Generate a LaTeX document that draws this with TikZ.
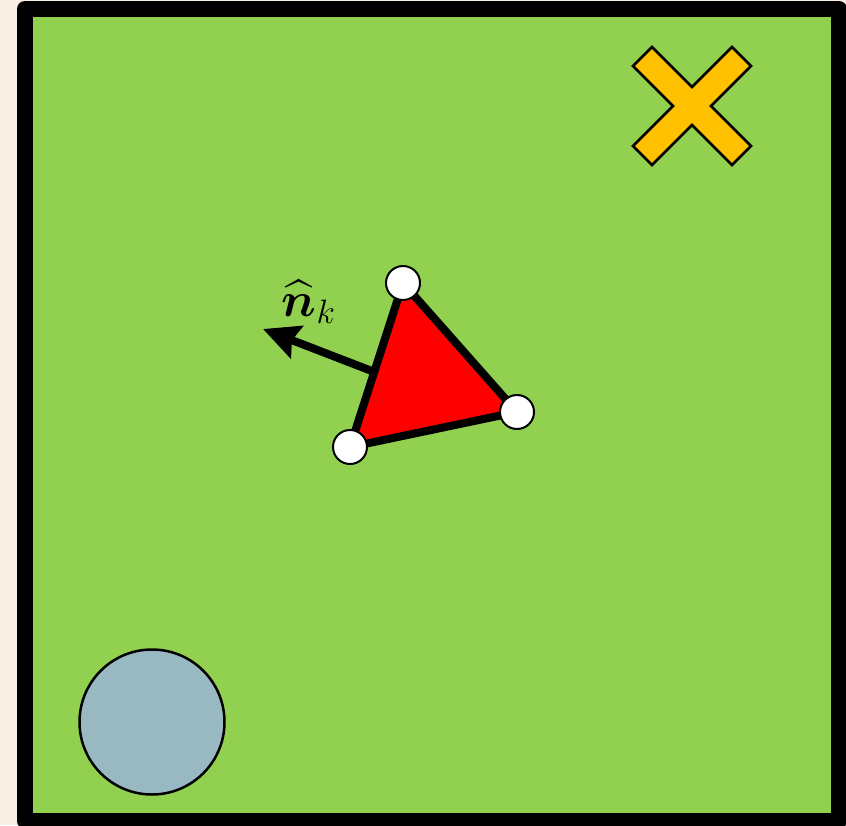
\documentclass[tikz,border=0pt]{standalone}
\usepackage{amsmath, amssymb, bm, graphicx}
\usepackage{tikz}
\usetikzlibrary{positioning, arrows.meta, calc}
\definecolor{paper}{HTML}{F9F0E5}
\definecolor{field}{HTML}{92D050}
\definecolor{goal}{HTML}{FFC000}
\definecolor{pool}{HTML}{98B9C2}
\definecolor{agent}{HTML}{FF0000}

\tikzset{
  vertex/.style={circle, draw=black, line width=2pt, fill=white,
                 minimum size=34pt, inner sep=0pt},
  normal/.style={line width=8pt, -{Stealth[length=36pt, width=34pt, inset=5pt]}}
}

\begin{document}
\begin{tikzpicture}[x=1pt, y=-1pt]
    \useasboundingbox (0,0) rectangle (846,825);
    \fill[paper] (0,0) rectangle (846,825);
    % arena
    \draw[line width=16pt, line join=round, fill=field] (25,9) rectangle (839,821);

    % target
    \draw[line width=2.5pt, fill=goal]
      (692,87) -- (732,47) -- (751,66) -- (711,106) -- (751,146) -- (732,165)
      -- (692,125) -- (652,165) -- (633,146) -- (673,106) -- (633,66)
      -- (652,47) -- cycle;

    % obstacle
    \node (pool) [circle, draw=black, line width=2.5pt, fill=pool,
                  minimum size=145pt] at (152,722) {};

    % normal of the element
    \coordinate (nbase) at (377,373);
    \coordinate (ntip) at (263,329);
    \draw[normal] (nbase) -- (ntip);
    \node (nlabel) [inner sep=0pt] at (309,302)
      {\scalebox{2.35}{\huge $\widehat{\bm{n}}_k$}};

    % element
    \coordinate (ptop) at (403,283);
    \coordinate (pright) at (517,412);
    \coordinate (pleft) at (350,447);
    \draw[line width=8pt, fill=agent] (ptop) -- (pright) -- (pleft) -- cycle;
    \node (vtop) [vertex] at (ptop) {};
    \node (vright) [vertex] at (pright) {};
    \node (vleft) [vertex] at (pleft) {};
  \end{tikzpicture}
\end{document}
